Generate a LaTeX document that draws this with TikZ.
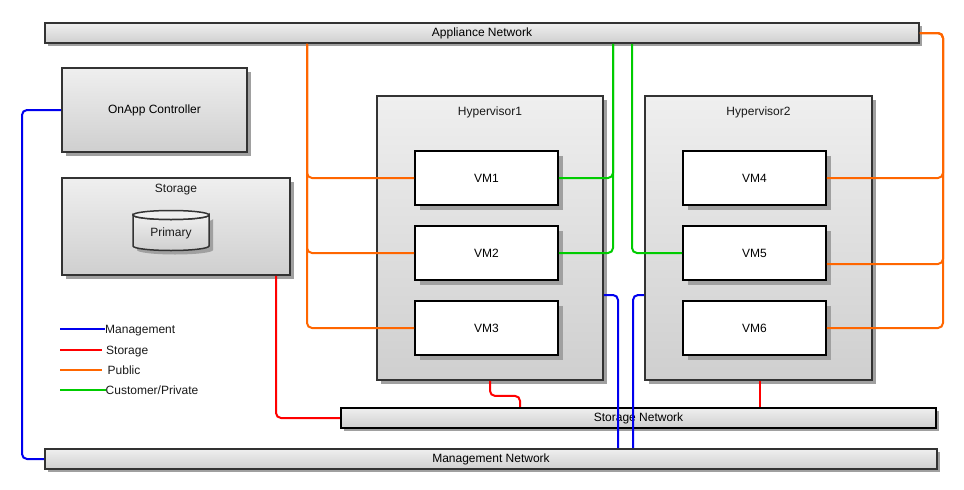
\documentclass[tikz,border=0pt]{standalone}
\usepackage{fontspec}
\setmainfont{Liberation Sans}
\usetikzlibrary{shadows,calc}

\definecolor{boxline}{HTML}{333333}
\definecolor{topgray}{HTML}{EFEFEF}
\definecolor{botgray}{HTML}{CFCFCF}
\definecolor{shadowgray}{HTML}{A0A0A0}
\definecolor{pubcol}{HTML}{FF6600}
\definecolor{custcol}{HTML}{00CC00}
\definecolor{mgmtcol}{HTML}{0000EE}
\definecolor{storcol}{HTML}{FF0000}

\tikzset{
  shade box/.style={draw=boxline, line width=1.8pt, top color=topgray, bottom color=botgray,
    inner sep=0pt, align=center,
    drop shadow={shadow xshift=4pt, shadow yshift=-4pt, fill=shadowgray, opacity=1}},
  netbar/.style={draw=boxline, line width=1.8pt, top color=topgray, bottom color=botgray,
    inner sep=0pt, align=center,
    drop shadow={shadow xshift=3pt, shadow yshift=-3pt, fill=shadowgray, opacity=1}},
  vmbox/.style={draw=black, line width=1.8pt, fill=white, inner sep=0pt,
    minimum width=143pt, minimum height=54pt,
    drop shadow={shadow xshift=5pt, shadow yshift=-5pt, fill=shadowgray, opacity=1}},
  hvbox/.style={shade box, minimum width=226pt, minimum height=284pt},
  title/.style={inner sep=0pt, anchor=base, text=black!90},
  legtext/.style={inner sep=0pt, anchor=base west, text=black!90},
  link/.style={line width=2pt, rounded corners=5pt},
  pub/.style={link, draw=pubcol},
  cust/.style={link, draw=custcol},
  mgmt/.style={link, draw=mgmtcol},
  stor/.style={link, draw=storcol},
}

\begin{document}
\begin{tikzpicture}[x=1pt, y=-1pt, font=\fontsize{12}{14}\selectfont]
\useasboundingbox (0,0) rectangle (964,490);

% networks
\node[netbar, minimum width=874pt, minimum height=20pt] (app) at (482,33) {Appliance Network};
\node[netbar, draw=black, line width=2.2pt, minimum width=595pt, minimum height=20pt] (snet) at (638.5,418) {Storage Network};
\node[netbar, minimum width=892pt, minimum height=20pt] (mgmtnet) at (491,459) {Management Network};

% controller and storage
\node[shade box, minimum width=185pt, minimum height=84pt] (ctrl) at (154.5,110) {OnApp Controller};
\node[shade box, minimum width=228pt, minimum height=97pt] (store) at (176,226.5) {};
\node[title] (storet) at (176,192.3) {Storage};

% primary storage cylinder
\path[draw=boxline, line width=1.5pt, top color=topgray, bottom color=botgray,
  drop shadow={shadow xshift=4pt, shadow yshift=-4pt, fill=shadowgray, opacity=1}]
  (133,215) -- (133,246) arc[start angle=180, end angle=0, x radius=38, y radius=4.5]
  -- (209,215) arc[start angle=0, end angle=180, x radius=38, y radius=4.5] -- cycle;
\draw[draw=boxline, line width=1.5pt, fill=topgray] (171,215) ellipse[x radius=38, y radius=4.5];
\node[title] (prim) at (171,236.3) {Primary};

% hypervisors and their VMs
\node[hvbox] (hv1) at (490,238) {};
\node[title] (hv1t) at (490,115.3) {Hypervisor1};
\node[hvbox, minimum width=227pt] (hv2) at (758.5,238) {};
\node[title] (hv2t) at (758.5,115.3) {Hypervisor2};

\node[vmbox] (vm1) at (486.5,178) {VM1};
\node[vmbox] (vm2) at (486.5,253) {VM2};
\node[vmbox] (vm3) at (486.5,328) {VM3};
\node[vmbox] (vm4) at (754.5,178) {VM4};
\node[vmbox] (vm5) at (754.5,253) {VM5};
\node[vmbox] (vm6) at (754.5,328) {VM6};

% routing columns
\coordinate (pl) at (307,0);
\coordinate (pr) at (943,0);
\coordinate (g1) at (613,0);
\coordinate (g2) at (632,0);
\coordinate (ml) at (22,0);
\coordinate (m1) at (618,0);
\coordinate (m2) at (633,0);
\coordinate (sl) at (276,0);
\coordinate (s1) at (520,0);
\coordinate (s2) at (760,0);

% public
\draw[pub] (app.south -| pl) |- (vm1.west);
\draw[pub] (app.south -| pl) |- (vm2.west);
\draw[pub] (app.south -| pl) |- (vm3.west);
\draw[pub] (app.east) -| (pr |- vm4.east) -- (vm4.east);
\draw[pub] (app.east) -| (pr |- vm6.east) -- (vm6.east);
\draw[pub] (app.east) -| ($(pr)+(0,264)$) -- ([yshift=-11pt]vm5.east);

% customer / private
\draw[cust] (app.south -| g1) |- (vm1.east);
\draw[cust] (app.south -| g1) |- (vm2.east);
\draw[cust] (app.south -| g2) |- (vm5.west);

% storage
\draw[stor] (store.south -| sl) |- (snet.west);
\draw[stor] (hv1.south) -- ++(0,15) -| (snet.north -| s1);
\draw[stor] (hv2.south -| s2) -- (snet.north -| s2);

% management
\draw[mgmt] (ctrl.west) -| (ml |- mgmtnet.west) -- (mgmtnet.west);
\draw[mgmt] ([yshift=-57pt]hv1.east) -| (mgmtnet.north -| m1);
\draw[mgmt] ([yshift=-57pt]hv2.west) -| (mgmtnet.north -| m2);

% legend
\node[legtext] (lm) at (105,333) {Management};
\node[legtext] (ls) at (106,354) {Storage};
\node[legtext] (lp) at (107.5,374) {Public};
\node[legtext] (lc) at (105.5,394) {Customer/Private};
\draw[mgmt] (60,329) -- (lm.west |- 0,329);
\draw[stor] (60,350) -- (102,350);
\draw[pub] (60,370) -- (102,370);
\draw[cust] (60,390) -- (lc.west |- 0,390);
\end{tikzpicture}
\end{document}
